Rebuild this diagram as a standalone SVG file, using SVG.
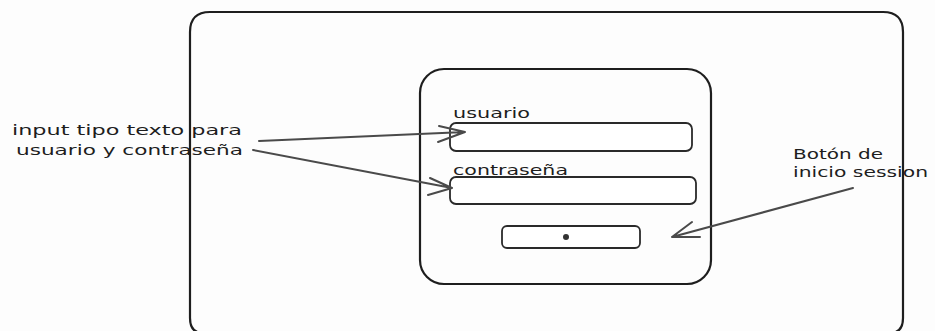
<svg xmlns="http://www.w3.org/2000/svg" width="935" height="331" viewBox="0 0 935 331">
<style>
.box{fill:none;stroke:#1e1e1e;stroke-width:2.2}
.field{fill:#fff;stroke:#2a2a2a;stroke-width:1.8}
.arr{fill:none;stroke:#4a4a4a;stroke-width:2;stroke-linecap:round;stroke-linejoin:round}
.t{font-family:"DejaVu Sans","Liberation Sans",sans-serif;font-size:14px;fill:#1e1e1e}
</style>
<rect width="935" height="331" fill="#fdfdfd"/>
<g id="screen"><path class="box" d="M210 12 H883 Q903 12 903 32 V318 Q903 333 890 333 H203 Q190 333 190 318 V32 Q190 12 210 12 Z"/></g>
<g id="panel"><rect class="box" x="420" y="69" width="291" height="215" rx="24"/></g>
<g id="usuario">
<text class="t" x="453" y="118" textLength="77" lengthAdjust="spacingAndGlyphs">usuario</text>
<rect class="field" x="450" y="123" width="242" height="28" rx="6"/>
</g>
<g id="contrasena">
<text class="t" x="453" y="175" textLength="115" lengthAdjust="spacingAndGlyphs">contraseña</text>
<rect class="field" x="450" y="177" width="246" height="27" rx="6"/>
</g>
<g id="boton">
<rect class="field" x="502" y="226" width="138" height="22" rx="5"/>
<circle cx="566" cy="237" r="3" fill="#333"/>
</g>
<g id="nota-inputs">
<text class="t" x="12" y="135" textLength="230" lengthAdjust="spacingAndGlyphs">input tipo texto para</text>
<text class="t" x="16" y="155" textLength="227" lengthAdjust="spacingAndGlyphs">usuario y contraseña</text>
</g>
<g id="nota-boton">
<text class="t" x="793" y="159" textLength="90" lengthAdjust="spacingAndGlyphs">Botón de</text>
<text class="t" x="793" y="177" textLength="135" lengthAdjust="spacingAndGlyphs">inicio session</text>
</g>
<g id="connectors">
<path class="arr" d="M259 141 L465 132 M439 126 L465 132 L438 142"/>
<path class="arr" d="M253 150 L452 188 M430 178 L452 188 L428 195"/>
<path class="arr" d="M853 188 L672 237 M692 222 L672 237 L700 237"/>
</g>
</svg>
